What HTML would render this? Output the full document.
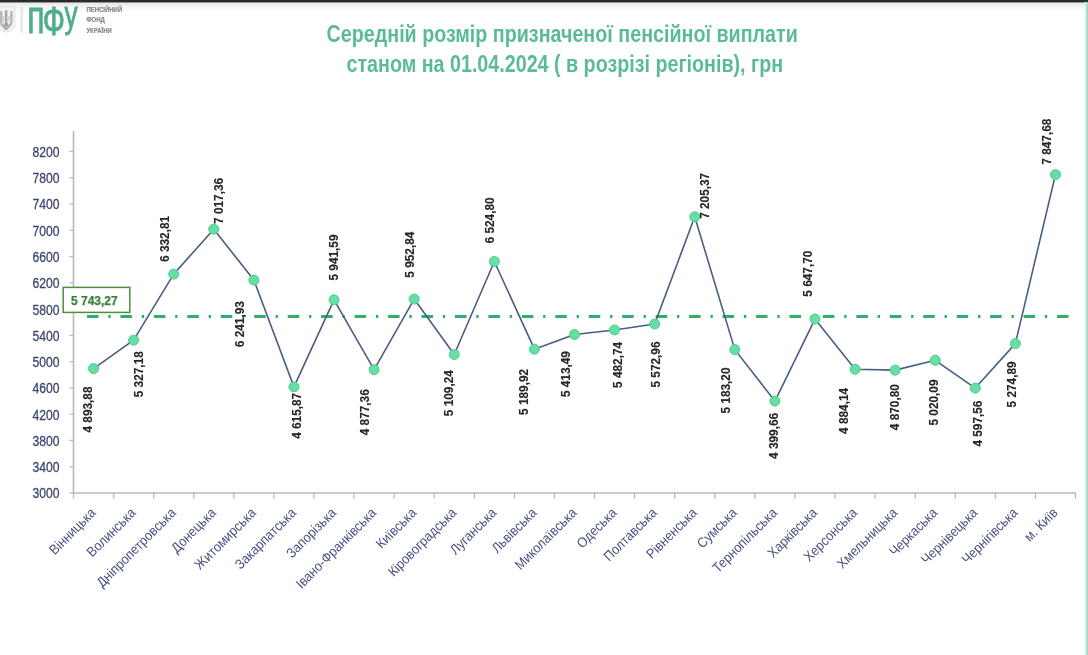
<!DOCTYPE html><html><head><meta charset="utf-8"><style>html,body{margin:0;padding:0;background:#fff;}body{width:1088px;height:655px;overflow:hidden;position:relative;}svg{position:absolute;left:-6px;top:-6px;display:block;filter:blur(0.55px);}text{font-family:"Liberation Sans","DejaVu Sans",sans-serif;}</style></head><body>
<svg width="1100" height="667" viewBox="-6 -6 1100 667">
<rect x="-6" y="-6" width="1100" height="667" fill="#fff"/>
<defs><linearGradient id="shd" x1="0" y1="0" x2="0" y2="1"><stop offset="0" stop-color="#e9e9eb"/><stop offset="1" stop-color="#ffffff"/></linearGradient><linearGradient id="grn" x1="0" y1="0" x2="1" y2="0"><stop offset="0" stop-color="#ffffff"/><stop offset="0.45" stop-color="#b6e6d2"/><stop offset="1" stop-color="#93d6bb"/></linearGradient></defs>
<rect x="-6" y="3" width="1100" height="8" fill="url(#shd)"/>
<rect x="-6" y="-6" width="1100" height="8.1" fill="#29282c"/>
<rect x="-6" y="2.1" width="1100" height="0.9" fill="#8c8b90"/>
<rect x="1084.8" y="2" width="3.2" height="659" fill="url(#grn)"/><rect x="1088" y="2" width="6" height="659" fill="#93d6bb"/>
<rect x="1085" y="-6" width="9" height="8.1" fill="#1f3a30"/>
<g id="logo">
<path d="M-2 6.8 L14.8 6.8 L14.8 24.5 Q14.8 30.5 6.4 32 Q-2 30.5 -2 24.5 Z" fill="#f4f4f4" stroke="#dadada" stroke-width="0.9"/>
<path d="M6.1 10.3 L6.1 26" fill="none" stroke="#a8a8a8" stroke-width="2.6"/>
<ellipse cx="6.1" cy="26.3" rx="2.8" ry="3.6" fill="#a4a4a4"/>
<path d="M1.2 11 L1.2 22 Q1.5 26.8 6.1 27.8 Q10.8 26.8 11.4 22 L11.4 11" fill="none" stroke="#b4b4b4" stroke-width="2.3"/>
<path d="M3.4 16 L3.4 21.5 M8.9 16 L8.9 21.5" fill="none" stroke="#c8c8c8" stroke-width="1.2"/>
<rect x="20.4" y="6.6" width="2.7" height="26.2" fill="#e8e8e8"/>
<text x="0" y="0" font-size="32" fill="#4fae8a" stroke="#4fae8a" stroke-width="0.6" transform="matrix(1 0 0 1.47 27.3 32.8)">п</text>
<text x="0" y="0" font-size="29.2" fill="#4fae8a" stroke="#4fae8a" stroke-width="0.6" transform="matrix(1 0 0 1.414 42.85 34.5)">Ф</text>
<text x="0" y="0" font-size="26.2" fill="#4fae8a" stroke="#4fae8a" stroke-width="0.6" transform="matrix(1 0 0 1.397 64.6 27.2)">у</text>
<text x="0" y="0" font-size="7.4" font-weight="bold" fill="#858585" stroke="#858585" stroke-width="0.15" transform="matrix(0.81 0 0 1 86.4 11.7)">ПЕНСІЙНИЙ</text>
<text x="0" y="0" font-size="7.4" font-weight="bold" fill="#858585" stroke="#858585" stroke-width="0.15" transform="matrix(0.81 0 0 1 86.4 22.2)">ФОНД</text>
<text x="0" y="0" font-size="7.4" font-weight="bold" fill="#858585" stroke="#858585" stroke-width="0.15" transform="matrix(0.81 0 0 1 86.4 32.5)">УКРАЇНИ</text>
</g>
<text x="0" y="0" font-size="19.7" font-weight="bold" fill="#5abc93" text-anchor="middle" transform="matrix(1 0 0 1.19 562.2 42.4)">Середній розмір призначеної пенсійної виплати</text>
<text x="0" y="0" font-size="19.7" font-weight="bold" fill="#5abc93" text-anchor="middle" transform="matrix(1 0 0 1.19 564.8 71.8)">станом на 01.04.2024 ( в розрізі регіонів), грн</text>
<line x1="73.5" y1="131" x2="73.5" y2="493.0" stroke="#b8b8b8" stroke-width="1.6"/>
<line x1="73.5" y1="493.0" x2="1075.5" y2="493.0" stroke="#b8b8b8" stroke-width="1.6"/>
<line x1="69.5" y1="493.00" x2="73.5" y2="493.00" stroke="#b8b8b8" stroke-width="1.2"/>
<text x="0" y="0" font-size="15" fill="#3d4771" stroke="#3d4771" stroke-width="0.3" text-anchor="end" transform="matrix(0.81 0 0 1 59.6 498.40)">3000</text>
<line x1="69.5" y1="466.73" x2="73.5" y2="466.73" stroke="#b8b8b8" stroke-width="1.2"/>
<text x="0" y="0" font-size="15" fill="#3d4771" stroke="#3d4771" stroke-width="0.3" text-anchor="end" transform="matrix(0.81 0 0 1 59.6 472.13)">3400</text>
<line x1="69.5" y1="440.46" x2="73.5" y2="440.46" stroke="#b8b8b8" stroke-width="1.2"/>
<text x="0" y="0" font-size="15" fill="#3d4771" stroke="#3d4771" stroke-width="0.3" text-anchor="end" transform="matrix(0.81 0 0 1 59.6 445.86)">3800</text>
<line x1="69.5" y1="414.19" x2="73.5" y2="414.19" stroke="#b8b8b8" stroke-width="1.2"/>
<text x="0" y="0" font-size="15" fill="#3d4771" stroke="#3d4771" stroke-width="0.3" text-anchor="end" transform="matrix(0.81 0 0 1 59.6 419.59)">4200</text>
<line x1="69.5" y1="387.92" x2="73.5" y2="387.92" stroke="#b8b8b8" stroke-width="1.2"/>
<text x="0" y="0" font-size="15" fill="#3d4771" stroke="#3d4771" stroke-width="0.3" text-anchor="end" transform="matrix(0.81 0 0 1 59.6 393.32)">4600</text>
<line x1="69.5" y1="361.65" x2="73.5" y2="361.65" stroke="#b8b8b8" stroke-width="1.2"/>
<text x="0" y="0" font-size="15" fill="#3d4771" stroke="#3d4771" stroke-width="0.3" text-anchor="end" transform="matrix(0.81 0 0 1 59.6 367.05)">5000</text>
<line x1="69.5" y1="335.38" x2="73.5" y2="335.38" stroke="#b8b8b8" stroke-width="1.2"/>
<text x="0" y="0" font-size="15" fill="#3d4771" stroke="#3d4771" stroke-width="0.3" text-anchor="end" transform="matrix(0.81 0 0 1 59.6 340.78)">5400</text>
<line x1="69.5" y1="309.11" x2="73.5" y2="309.11" stroke="#b8b8b8" stroke-width="1.2"/>
<text x="0" y="0" font-size="15" fill="#3d4771" stroke="#3d4771" stroke-width="0.3" text-anchor="end" transform="matrix(0.81 0 0 1 59.6 314.51)">5800</text>
<line x1="69.5" y1="282.84" x2="73.5" y2="282.84" stroke="#b8b8b8" stroke-width="1.2"/>
<text x="0" y="0" font-size="15" fill="#3d4771" stroke="#3d4771" stroke-width="0.3" text-anchor="end" transform="matrix(0.81 0 0 1 59.6 288.24)">6200</text>
<line x1="69.5" y1="256.57" x2="73.5" y2="256.57" stroke="#b8b8b8" stroke-width="1.2"/>
<text x="0" y="0" font-size="15" fill="#3d4771" stroke="#3d4771" stroke-width="0.3" text-anchor="end" transform="matrix(0.81 0 0 1 59.6 261.97)">6600</text>
<line x1="69.5" y1="230.30" x2="73.5" y2="230.30" stroke="#b8b8b8" stroke-width="1.2"/>
<text x="0" y="0" font-size="15" fill="#3d4771" stroke="#3d4771" stroke-width="0.3" text-anchor="end" transform="matrix(0.81 0 0 1 59.6 235.70)">7000</text>
<line x1="69.5" y1="204.03" x2="73.5" y2="204.03" stroke="#b8b8b8" stroke-width="1.2"/>
<text x="0" y="0" font-size="15" fill="#3d4771" stroke="#3d4771" stroke-width="0.3" text-anchor="end" transform="matrix(0.81 0 0 1 59.6 209.43)">7400</text>
<line x1="69.5" y1="177.76" x2="73.5" y2="177.76" stroke="#b8b8b8" stroke-width="1.2"/>
<text x="0" y="0" font-size="15" fill="#3d4771" stroke="#3d4771" stroke-width="0.3" text-anchor="end" transform="matrix(0.81 0 0 1 59.6 183.16)">7800</text>
<line x1="69.5" y1="151.49" x2="73.5" y2="151.49" stroke="#b8b8b8" stroke-width="1.2"/>
<text x="0" y="0" font-size="15" fill="#3d4771" stroke="#3d4771" stroke-width="0.3" text-anchor="end" transform="matrix(0.81 0 0 1 59.6 156.89)">8200</text>
<line x1="73.50" y1="493.0" x2="73.50" y2="498.5" stroke="#b8b8b8" stroke-width="1.3"/>
<line x1="113.58" y1="493.0" x2="113.58" y2="498.5" stroke="#b8b8b8" stroke-width="1.3"/>
<line x1="153.66" y1="493.0" x2="153.66" y2="498.5" stroke="#b8b8b8" stroke-width="1.3"/>
<line x1="193.74" y1="493.0" x2="193.74" y2="498.5" stroke="#b8b8b8" stroke-width="1.3"/>
<line x1="233.82" y1="493.0" x2="233.82" y2="498.5" stroke="#b8b8b8" stroke-width="1.3"/>
<line x1="273.90" y1="493.0" x2="273.90" y2="498.5" stroke="#b8b8b8" stroke-width="1.3"/>
<line x1="313.98" y1="493.0" x2="313.98" y2="498.5" stroke="#b8b8b8" stroke-width="1.3"/>
<line x1="354.06" y1="493.0" x2="354.06" y2="498.5" stroke="#b8b8b8" stroke-width="1.3"/>
<line x1="394.14" y1="493.0" x2="394.14" y2="498.5" stroke="#b8b8b8" stroke-width="1.3"/>
<line x1="434.22" y1="493.0" x2="434.22" y2="498.5" stroke="#b8b8b8" stroke-width="1.3"/>
<line x1="474.30" y1="493.0" x2="474.30" y2="498.5" stroke="#b8b8b8" stroke-width="1.3"/>
<line x1="514.38" y1="493.0" x2="514.38" y2="498.5" stroke="#b8b8b8" stroke-width="1.3"/>
<line x1="554.46" y1="493.0" x2="554.46" y2="498.5" stroke="#b8b8b8" stroke-width="1.3"/>
<line x1="594.54" y1="493.0" x2="594.54" y2="498.5" stroke="#b8b8b8" stroke-width="1.3"/>
<line x1="634.62" y1="493.0" x2="634.62" y2="498.5" stroke="#b8b8b8" stroke-width="1.3"/>
<line x1="674.70" y1="493.0" x2="674.70" y2="498.5" stroke="#b8b8b8" stroke-width="1.3"/>
<line x1="714.78" y1="493.0" x2="714.78" y2="498.5" stroke="#b8b8b8" stroke-width="1.3"/>
<line x1="754.86" y1="493.0" x2="754.86" y2="498.5" stroke="#b8b8b8" stroke-width="1.3"/>
<line x1="794.94" y1="493.0" x2="794.94" y2="498.5" stroke="#b8b8b8" stroke-width="1.3"/>
<line x1="835.02" y1="493.0" x2="835.02" y2="498.5" stroke="#b8b8b8" stroke-width="1.3"/>
<line x1="875.10" y1="493.0" x2="875.10" y2="498.5" stroke="#b8b8b8" stroke-width="1.3"/>
<line x1="915.18" y1="493.0" x2="915.18" y2="498.5" stroke="#b8b8b8" stroke-width="1.3"/>
<line x1="955.26" y1="493.0" x2="955.26" y2="498.5" stroke="#b8b8b8" stroke-width="1.3"/>
<line x1="995.34" y1="493.0" x2="995.34" y2="498.5" stroke="#b8b8b8" stroke-width="1.3"/>
<line x1="1035.42" y1="493.0" x2="1035.42" y2="498.5" stroke="#b8b8b8" stroke-width="1.3"/>
<line x1="1075.50" y1="493.0" x2="1075.50" y2="498.5" stroke="#b8b8b8" stroke-width="1.3"/>
<text x="0" y="0" font-size="13.8" fill="#4a5282" text-anchor="end" transform="translate(96.54 513.60) rotate(-45) scale(0.92 1)">Вінницька</text>
<text x="0" y="0" font-size="13.8" fill="#4a5282" text-anchor="end" transform="translate(136.62 513.60) rotate(-45) scale(0.92 1)">Волинська</text>
<text x="0" y="0" font-size="13.8" fill="#4a5282" text-anchor="end" transform="translate(176.70 513.60) rotate(-45) scale(0.92 1)">Дніпропетровська</text>
<text x="0" y="0" font-size="13.8" fill="#4a5282" text-anchor="end" transform="translate(216.78 513.60) rotate(-45) scale(0.92 1)">Донецька</text>
<text x="0" y="0" font-size="13.8" fill="#4a5282" text-anchor="end" transform="translate(256.86 513.60) rotate(-45) scale(0.92 1)">Житомирська</text>
<text x="0" y="0" font-size="13.8" fill="#4a5282" text-anchor="end" transform="translate(296.94 513.60) rotate(-45) scale(0.92 1)">Закарпатська</text>
<text x="0" y="0" font-size="13.8" fill="#4a5282" text-anchor="end" transform="translate(337.02 513.60) rotate(-45) scale(0.92 1)">Запорізька</text>
<text x="0" y="0" font-size="13.8" fill="#4a5282" text-anchor="end" transform="translate(377.10 513.60) rotate(-45) scale(0.92 1)">Івано-Франківська</text>
<text x="0" y="0" font-size="13.8" fill="#4a5282" text-anchor="end" transform="translate(417.18 513.60) rotate(-45) scale(0.92 1)">Київська</text>
<text x="0" y="0" font-size="13.8" fill="#4a5282" text-anchor="end" transform="translate(457.26 513.60) rotate(-45) scale(0.92 1)">Кіровоградська</text>
<text x="0" y="0" font-size="13.8" fill="#4a5282" text-anchor="end" transform="translate(497.34 513.60) rotate(-45) scale(0.92 1)">Луганська</text>
<text x="0" y="0" font-size="13.8" fill="#4a5282" text-anchor="end" transform="translate(537.42 513.60) rotate(-45) scale(0.92 1)">Львівська</text>
<text x="0" y="0" font-size="13.8" fill="#4a5282" text-anchor="end" transform="translate(577.50 513.60) rotate(-45) scale(0.92 1)">Миколаївська</text>
<text x="0" y="0" font-size="13.8" fill="#4a5282" text-anchor="end" transform="translate(617.58 513.60) rotate(-45) scale(0.92 1)">Одеська</text>
<text x="0" y="0" font-size="13.8" fill="#4a5282" text-anchor="end" transform="translate(657.66 513.60) rotate(-45) scale(0.92 1)">Полтавська</text>
<text x="0" y="0" font-size="13.8" fill="#4a5282" text-anchor="end" transform="translate(697.74 513.60) rotate(-45) scale(0.92 1)">Рівненська</text>
<text x="0" y="0" font-size="13.8" fill="#4a5282" text-anchor="end" transform="translate(737.82 513.60) rotate(-45) scale(0.92 1)">Сумська</text>
<text x="0" y="0" font-size="13.8" fill="#4a5282" text-anchor="end" transform="translate(777.90 513.60) rotate(-45) scale(0.92 1)">Тернопільська</text>
<text x="0" y="0" font-size="13.8" fill="#4a5282" text-anchor="end" transform="translate(817.98 513.60) rotate(-45) scale(0.92 1)">Харківська</text>
<text x="0" y="0" font-size="13.8" fill="#4a5282" text-anchor="end" transform="translate(858.06 513.60) rotate(-45) scale(0.92 1)">Херсонська</text>
<text x="0" y="0" font-size="13.8" fill="#4a5282" text-anchor="end" transform="translate(898.14 513.60) rotate(-45) scale(0.92 1)">Хмельницька</text>
<text x="0" y="0" font-size="13.8" fill="#4a5282" text-anchor="end" transform="translate(938.22 513.60) rotate(-45) scale(0.92 1)">Черкаська</text>
<text x="0" y="0" font-size="13.8" fill="#4a5282" text-anchor="end" transform="translate(978.30 513.60) rotate(-45) scale(0.92 1)">Чернівецька</text>
<text x="0" y="0" font-size="13.8" fill="#4a5282" text-anchor="end" transform="translate(1018.38 513.60) rotate(-45) scale(0.92 1)">Чернігівська</text>
<text x="0" y="0" font-size="13.8" fill="#4a5282" text-anchor="end" transform="translate(1058.46 513.60) rotate(-45) scale(0.92 1)">м. Київ</text>
<line x1="87" y1="316.6" x2="1070.5" y2="316.6" stroke="#2fae6c" stroke-width="3" stroke-dasharray="11.5 9.8 2.4 9.75"/>
<rect x="63.2" y="287.4" width="66.6" height="25" fill="#fff" stroke="#4f8c3f" stroke-width="1.5"/>
<text x="71" y="305.3" font-size="12" font-weight="bold" fill="#3a803a" stroke="#3a803a" stroke-width="0.25">5 743,27</text>
<polyline points="93.54,368.62 133.62,340.16 173.70,274.12 213.78,229.16 253.86,280.09 293.94,386.88 334.02,299.81 374.10,369.70 414.18,299.07 454.26,354.48 494.34,261.51 534.42,349.18 574.50,334.49 614.58,329.95 654.66,324.02 694.74,216.81 734.82,349.62 774.90,401.08 814.98,319.11 855.06,369.26 895.14,370.14 935.22,360.33 975.30,388.08 1015.38,343.60 1055.46,174.63" fill="none" stroke="#485e84" stroke-width="1.6" stroke-linejoin="round"/>
<circle cx="93.54" cy="368.62" r="5.0" fill="#66dea4" stroke="#50cc8d" stroke-width="1"/>
<circle cx="133.62" cy="340.16" r="5.0" fill="#66dea4" stroke="#50cc8d" stroke-width="1"/>
<circle cx="173.70" cy="274.12" r="5.0" fill="#66dea4" stroke="#50cc8d" stroke-width="1"/>
<circle cx="213.78" cy="229.16" r="5.0" fill="#66dea4" stroke="#50cc8d" stroke-width="1"/>
<circle cx="253.86" cy="280.09" r="5.0" fill="#66dea4" stroke="#50cc8d" stroke-width="1"/>
<circle cx="293.94" cy="386.88" r="5.0" fill="#66dea4" stroke="#50cc8d" stroke-width="1"/>
<circle cx="334.02" cy="299.81" r="5.0" fill="#66dea4" stroke="#50cc8d" stroke-width="1"/>
<circle cx="374.10" cy="369.70" r="5.0" fill="#66dea4" stroke="#50cc8d" stroke-width="1"/>
<circle cx="414.18" cy="299.07" r="5.0" fill="#66dea4" stroke="#50cc8d" stroke-width="1"/>
<circle cx="454.26" cy="354.48" r="5.0" fill="#66dea4" stroke="#50cc8d" stroke-width="1"/>
<circle cx="494.34" cy="261.51" r="5.0" fill="#66dea4" stroke="#50cc8d" stroke-width="1"/>
<circle cx="534.42" cy="349.18" r="5.0" fill="#66dea4" stroke="#50cc8d" stroke-width="1"/>
<circle cx="574.50" cy="334.49" r="5.0" fill="#66dea4" stroke="#50cc8d" stroke-width="1"/>
<circle cx="614.58" cy="329.95" r="5.0" fill="#66dea4" stroke="#50cc8d" stroke-width="1"/>
<circle cx="654.66" cy="324.02" r="5.0" fill="#66dea4" stroke="#50cc8d" stroke-width="1"/>
<circle cx="694.74" cy="216.81" r="5.0" fill="#66dea4" stroke="#50cc8d" stroke-width="1"/>
<circle cx="734.82" cy="349.62" r="5.0" fill="#66dea4" stroke="#50cc8d" stroke-width="1"/>
<circle cx="774.90" cy="401.08" r="5.0" fill="#66dea4" stroke="#50cc8d" stroke-width="1"/>
<circle cx="814.98" cy="319.11" r="5.0" fill="#66dea4" stroke="#50cc8d" stroke-width="1"/>
<circle cx="855.06" cy="369.26" r="5.0" fill="#66dea4" stroke="#50cc8d" stroke-width="1"/>
<circle cx="895.14" cy="370.14" r="5.0" fill="#66dea4" stroke="#50cc8d" stroke-width="1"/>
<circle cx="935.22" cy="360.33" r="5.0" fill="#66dea4" stroke="#50cc8d" stroke-width="1"/>
<circle cx="975.30" cy="388.08" r="5.0" fill="#66dea4" stroke="#50cc8d" stroke-width="1"/>
<circle cx="1015.38" cy="343.60" r="5.0" fill="#66dea4" stroke="#50cc8d" stroke-width="1"/>
<circle cx="1055.46" cy="174.63" r="5.0" fill="#66dea4" stroke="#50cc8d" stroke-width="1"/>
<text x="0" y="0" font-size="13.6" font-weight="bold" fill="#262626" stroke="#262626" stroke-width="0.12" text-anchor="middle" transform="translate(91.90 409.50) rotate(-90) scale(0.87 1)">4 893,88</text>
<text x="0" y="0" font-size="13.6" font-weight="bold" fill="#262626" stroke="#262626" stroke-width="0.12" text-anchor="middle" transform="translate(143.20 374.25) rotate(-90) scale(0.87 1)">5 327,18</text>
<text x="0" y="0" font-size="13.6" font-weight="bold" fill="#262626" stroke="#262626" stroke-width="0.12" text-anchor="middle" transform="translate(169.45 238.90) rotate(-90) scale(0.87 1)">6 332,81</text>
<text x="0" y="0" font-size="13.6" font-weight="bold" fill="#262626" stroke="#262626" stroke-width="0.12" text-anchor="middle" transform="translate(222.65 200.95) rotate(-90) scale(0.87 1)">7 017,36</text>
<text x="0" y="0" font-size="13.6" font-weight="bold" fill="#262626" stroke="#262626" stroke-width="0.12" text-anchor="middle" transform="translate(243.75 324.20) rotate(-90) scale(0.87 1)">6 241,93</text>
<text x="0" y="0" font-size="13.6" font-weight="bold" fill="#262626" stroke="#262626" stroke-width="0.12" text-anchor="middle" transform="translate(300.60 415.85) rotate(-90) scale(0.87 1)">4 615,87</text>
<text x="0" y="0" font-size="13.6" font-weight="bold" fill="#262626" stroke="#262626" stroke-width="0.12" text-anchor="middle" transform="translate(338.05 257.50) rotate(-90) scale(0.87 1)">5 941,59</text>
<text x="0" y="0" font-size="13.6" font-weight="bold" fill="#262626" stroke="#262626" stroke-width="0.12" text-anchor="middle" transform="translate(368.85 412.25) rotate(-90) scale(0.87 1)">4 877,36</text>
<text x="0" y="0" font-size="13.6" font-weight="bold" fill="#262626" stroke="#262626" stroke-width="0.12" text-anchor="middle" transform="translate(414.05 254.65) rotate(-90) scale(0.87 1)">5 952,84</text>
<text x="0" y="0" font-size="13.6" font-weight="bold" fill="#262626" stroke="#262626" stroke-width="0.12" text-anchor="middle" transform="translate(453.15 393.15) rotate(-90) scale(0.87 1)">5 109,24</text>
<text x="0" y="0" font-size="13.6" font-weight="bold" fill="#262626" stroke="#262626" stroke-width="0.12" text-anchor="middle" transform="translate(493.65 220.40) rotate(-90) scale(0.87 1)">6 524,80</text>
<text x="0" y="0" font-size="13.6" font-weight="bold" fill="#262626" stroke="#262626" stroke-width="0.12" text-anchor="middle" transform="translate(528.30 391.95) rotate(-90) scale(0.87 1)">5 189,92</text>
<text x="0" y="0" font-size="13.6" font-weight="bold" fill="#262626" stroke="#262626" stroke-width="0.12" text-anchor="middle" transform="translate(569.70 374.10) rotate(-90) scale(0.87 1)">5 413,49</text>
<text x="0" y="0" font-size="13.6" font-weight="bold" fill="#262626" stroke="#262626" stroke-width="0.12" text-anchor="middle" transform="translate(621.90 364.95) rotate(-90) scale(0.87 1)">5 482,74</text>
<text x="0" y="0" font-size="13.6" font-weight="bold" fill="#262626" stroke="#262626" stroke-width="0.12" text-anchor="middle" transform="translate(660.30 364.50) rotate(-90) scale(0.87 1)">5 572,96</text>
<text x="0" y="0" font-size="13.6" font-weight="bold" fill="#262626" stroke="#262626" stroke-width="0.12" text-anchor="middle" transform="translate(708.85 195.85) rotate(-90) scale(0.87 1)">7 205,37</text>
<text x="0" y="0" font-size="13.6" font-weight="bold" fill="#262626" stroke="#262626" stroke-width="0.12" text-anchor="middle" transform="translate(730.20 390.55) rotate(-90) scale(0.87 1)">5 183,20</text>
<text x="0" y="0" font-size="13.6" font-weight="bold" fill="#262626" stroke="#262626" stroke-width="0.12" text-anchor="middle" transform="translate(778.00 435.90) rotate(-90) scale(0.87 1)">4 399,66</text>
<text x="0" y="0" font-size="13.6" font-weight="bold" fill="#262626" stroke="#262626" stroke-width="0.12" text-anchor="middle" transform="translate(811.95 273.65) rotate(-90) scale(0.87 1)">5 647,70</text>
<text x="0" y="0" font-size="13.6" font-weight="bold" fill="#262626" stroke="#262626" stroke-width="0.12" text-anchor="middle" transform="translate(848.15 410.90) rotate(-90) scale(0.87 1)">4 884,14</text>
<text x="0" y="0" font-size="13.6" font-weight="bold" fill="#262626" stroke="#262626" stroke-width="0.12" text-anchor="middle" transform="translate(899.05 407.15) rotate(-90) scale(0.87 1)">4 870,80</text>
<text x="0" y="0" font-size="13.6" font-weight="bold" fill="#262626" stroke="#262626" stroke-width="0.12" text-anchor="middle" transform="translate(938.15 402.50) rotate(-90) scale(0.87 1)">5 020,09</text>
<text x="0" y="0" font-size="13.6" font-weight="bold" fill="#262626" stroke="#262626" stroke-width="0.12" text-anchor="middle" transform="translate(981.85 423.60) rotate(-90) scale(0.87 1)">4 597,56</text>
<text x="0" y="0" font-size="13.6" font-weight="bold" fill="#262626" stroke="#262626" stroke-width="0.12" text-anchor="middle" transform="translate(1015.80 384.40) rotate(-90) scale(0.87 1)">5 274,89</text>
<text x="0" y="0" font-size="13.6" font-weight="bold" fill="#262626" stroke="#262626" stroke-width="0.12" text-anchor="middle" transform="translate(1050.95 141.65) rotate(-90) scale(0.87 1)">7 847,68</text>
</svg></body></html>
